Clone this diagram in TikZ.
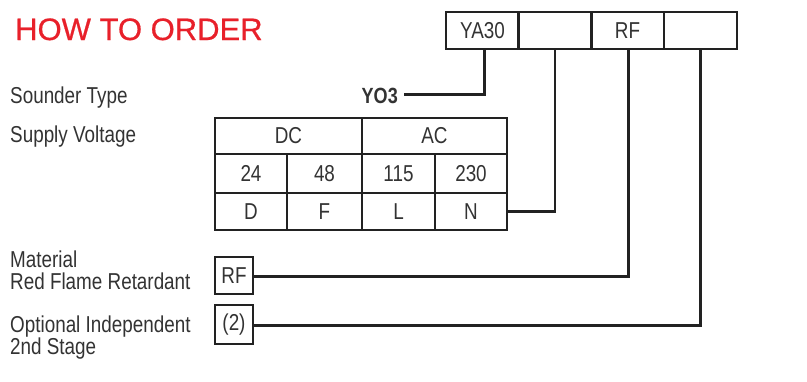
\documentclass[tikz,border=0pt]{standalone}
\usepackage{fontspec}
\setmainfont{Liberation Sans}[FakeStretch=0.82]
\newfontfamily\titlefont{Liberation Sans}[FakeBold=0.6]
\definecolor{titlered}{HTML}{E8202A}
\definecolor{txt}{HTML}{333333}
\definecolor{ln}{HTML}{222222}
\begin{document}
\begin{tikzpicture}[x=1pt,y=-1pt,
  lbl/.style={anchor=base west,inner sep=0,text=txt,font=\fontsize{23}{27}\selectfont},
  cell/.style={draw=ln,line width=2.3pt,anchor=north west,inner sep=0,outer sep=0,text=txt,font=\fontsize{23}{27}\selectfont},
  topbox/.style={draw=ln,line width=2.5pt,anchor=north west,inner sep=0,outer sep=0,minimum width=73pt,minimum height=37pt,text=txt,font=\fontsize{23}{27}\selectfont},
  conn/.style={draw=ln,line width=2.7pt}]
\useasboundingbox (0,0) rectangle (807,381);
\fill[white] (0,0) rectangle (807,381);
% title
\node[anchor=base west,inner sep=0,text=titlered,font=\titlefont\fontsize{31}{35}\selectfont] (title) at (15,40) {HOW TO ORDER};
% top code boxes
\node[topbox] (b1) at (446,12) {YA30};
\node[topbox] (b2) at (518.5,12) {};
\node[topbox] (b3) at (591,12) {RF};
\node[topbox] (b4) at (664,12) {};
% labels
\node[lbl] (l1) at (10,103) {Sounder Type};
\node[lbl] (l2) at (10,142) {Supply Voltage};
\node[lbl] (l3) at (10,267) {Material};
\node[lbl] (l4) at (10,289) {Red Flame Retardant};
\node[lbl] (l5) at (10,332) {Optional Independent};
\node[lbl] (l6) at (10,354) {2nd Stage};
\node[anchor=base east,inner sep=0,text=txt,font=\bfseries\fontsize{22}{26}\selectfont] (yo3) at (398,103) {YO3};
% table
\node[cell,minimum width=147pt,minimum height=36pt] (dc) at (215,118) {DC};
\node[cell,minimum width=145pt,minimum height=36pt] (ac) at (362,118) {AC};
\node[cell,minimum width=72pt,minimum height=39pt] (c24) at (215,154) {24};
\node[cell,minimum width=75pt,minimum height=39pt] (c48) at (287,154) {48};
\node[cell,minimum width=73pt,minimum height=39pt] (c115) at (362,154) {115};
\node[cell,minimum width=72pt,minimum height=39pt] (c230) at (435,154) {230};
\node[cell,minimum width=72pt,minimum height=37pt] (cD) at (215,193) {D};
\node[cell,minimum width=75pt,minimum height=37pt] (cF) at (287,193) {F};
\node[cell,minimum width=73pt,minimum height=37pt] (cL) at (362,193) {L};
\node[cell,minimum width=72pt,minimum height=37pt] (cN) at (435,193) {N};
% option boxes
\node[cell,line width=2.5pt,minimum width=38pt,minimum height=37pt] (rf) at (215,257) {RF};
\node[cell,line width=2.5pt,minimum width=38pt,minimum height=39pt] (two) at (215,305) {(2)};
% connectors
\draw[conn] ([xshift=2pt]b1.south) |- ([xshift=6pt,yshift=1pt]yo3.east) coordinate (yoend);
\draw[conn] (b2.south) |- (cN.east);
\draw[conn] ([xshift=1pt]b3.south) |- ([yshift=-1pt]rf.east);
\draw[conn] (b4.south) |- ([yshift=-1pt]two.east);
\end{tikzpicture}
\end{document}
